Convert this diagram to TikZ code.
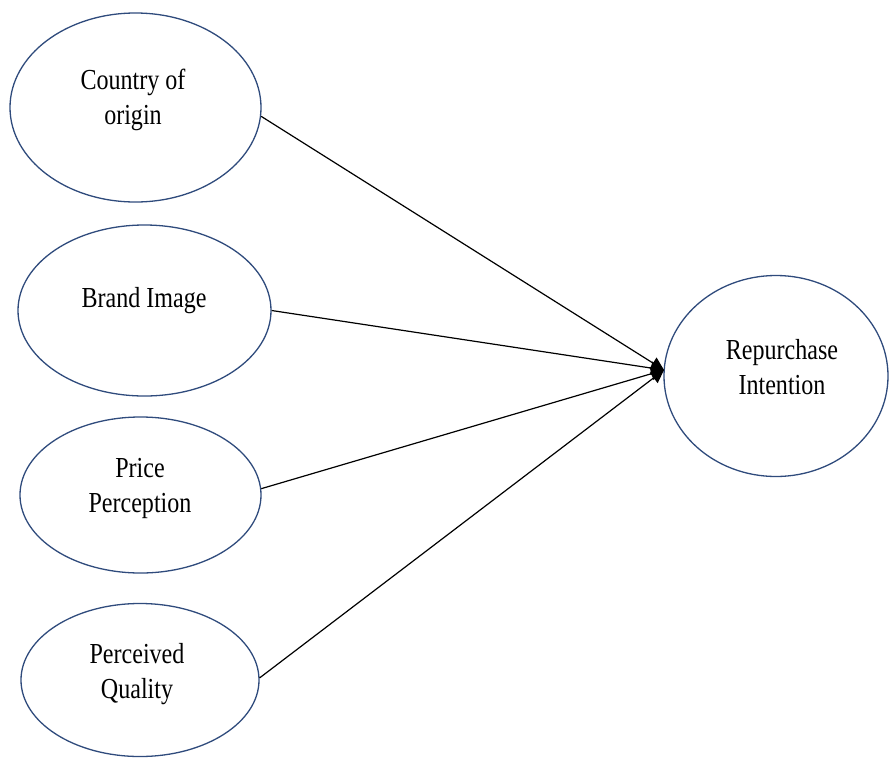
\documentclass[tikz,border=0pt]{standalone}
\usepackage{fontspec}
\setmainfont{Liberation Serif}
\newfontfamily\diagfont[FakeStretch=0.83]{Liberation Serif}
\usetikzlibrary{shapes.geometric,arrows.meta}
\definecolor{ellblue}{HTML}{2F4B7C}
\tikzset{
  oval/.style={ellipse, draw=ellblue, line width=1.3pt, inner sep=0pt},
  lbl/.style={align=center, font=\diagfont\fontsize{29pt}{35pt}\selectfont, inner sep=0pt},
  conn/.style={draw=black, line width=1.2pt, -{Triangle[length=13pt,width=13pt]}}
}
\begin{document}
\begin{tikzpicture}[x=1pt,y=-1pt]
\useasboundingbox (0,0) rectangle (889,758);
\node[oval, minimum width=251pt, minimum height=189pt] (e1) at (135.5,107.5) {};
\node[oval, minimum width=253pt, minimum height=171pt] (e2) at (144.5,310.5) {};
\node[oval, minimum width=241pt, minimum height=156pt] (e3) at (140.5,495) {};
\node[oval, minimum width=238pt, minimum height=153pt] (e4) at (140,680) {};
\node[oval, minimum width=224pt, minimum height=201pt] (e5) at (776,376) {};
\node[lbl] (t1) at (133,100) {Country of\\origin};
\node[lbl] (t2) at (144,301) {Brand Image};
\node[lbl] (t3) at (140,488) {Price\\Perception};
\node[lbl] (t4) at (137,674) {Perceived\\Quality};
\node[lbl] (t5) at (782,367) {Repurchase\\Intention};
\coordinate (tip) at (664,370);
\draw[conn] (e1.-4.3) -- (tip);
\draw[conn] (e2.east) -- (tip);
\draw[conn] (e3.3.3) -- (tip);
\draw[conn] (e4.1.4) -- (tip);
\end{tikzpicture}
\end{document}
